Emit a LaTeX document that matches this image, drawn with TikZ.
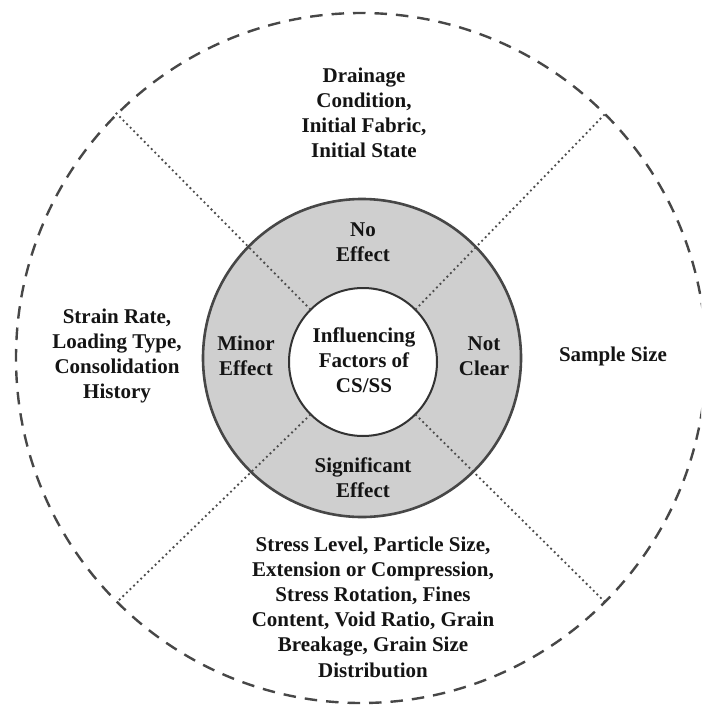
\documentclass[tikz,border=0pt]{standalone}
\usepackage{fontspec}
\setmainfont{Liberation Serif}
\begin{document}
\begin{tikzpicture}[x=1pt,y=-1pt,
  txt/.style={align=center,font=\bfseries\fontsize{21}{25.2}\selectfont,text=black!92,inner sep=0pt},
  outerring/.style={circle,draw=black!72,line width=2.4pt,dash pattern=on 12.5pt off 9pt,minimum size=690pt,inner sep=0pt},
  grayring/.style={circle,draw=black!72,fill=black!19,line width=2.6pt,minimum size=318pt,inner sep=0pt},
  core/.style={circle,draw=black!80,fill=white,line width=2pt,minimum size=148pt,inner sep=0pt},
  divider/.style={draw=black!70,line width=2.6pt,dash pattern=on 0pt off 5pt,line cap=round}]
\useasboundingbox (0,0) rectangle (701,709);
\clip (0,0) rectangle (701,709);
\node[outerring] (outer) at (361,358) {};
\node[grayring] (ring) at (362,358) {};
\node[core] (core) at (363,362) {};
\draw[divider] (core.45) -- (outer.45);
\draw[divider] (core.135) -- (outer.135);
\draw[divider] (core.225) -- (outer.225);
\draw[divider] (core.315) -- (outer.315);
\node[txt] (center) at (364,360) {Influencing\\Factors of\\CS/SS};
\node[txt] (noeff) at (363,242) {No\\Effect};
\node[txt] (minor) at (246,356) {Minor\\Effect};
\node[txt] (notclear) at (484,356) {Not\\Clear};
\node[txt] (signif) at (363,478) {Significant\\Effect};
\node[txt] (top) at (364,113) {Drainage\\Condition,\\Initial Fabric,\\Initial State};
\node[txt] (left) at (117,356) {Strain Rate,\\Loading Type,\\Consolidation\\History};
\node[txt] (right) at (613,356) {Sample Size};
\node[txt] (bottom) at (373,607) {Stress Level, Particle Size,\\Extension or Compression,\\Stress Rotation, Fines\\Content, Void Ratio, Grain\\Breakage, Grain Size\\Distribution};
\end{tikzpicture}
\end{document}
